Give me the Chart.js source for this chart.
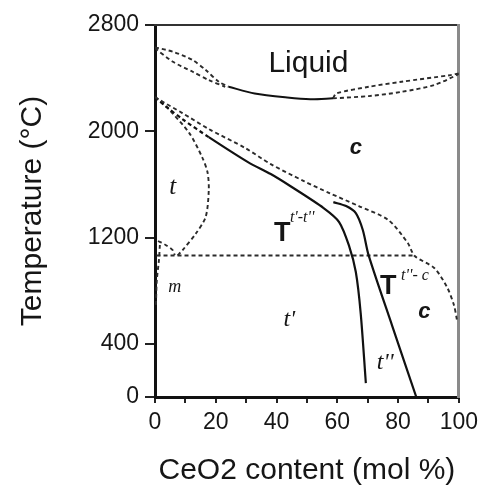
<!DOCTYPE html>
<html><head><meta charset="utf-8">
<script src="https://cdn.jsdelivr.net/npm/chart.js@4.4.0/dist/chart.umd.min.js"></script>
<style>html,body{margin:0;padding:0;background:#fff;}canvas{display:block;}</style>
</head><body>
<canvas id="c" width="484" height="487"></canvas>
<script>
// ---- axis ticks ----
const xTickValues = [0,10,20,30,40,50,60,70,80,90,100];
const xTickLabels = ['0','','20','','40','','60','','80','','100'];
const yTickValues = [0,400,1200,2000,2800];
const yTickLabels = ['0','400','1200','2000','2800'];

// ---- phase boundaries (x = CeO2 mol %, T = °C) ----
const liqLeftUpperX = [0, 6, 12.4, 16.7, 21, 24.2];
const liqLeftUpperT = [2632, 2598, 2536, 2461, 2373, 2335];
const liqLeftLowerX = [0, 5.9, 12.4, 17.7, 23.1];
const liqLeftLowerT = [2625, 2523, 2448, 2385, 2335];
const liqMidX = [24.2, 32.8, 43.5, 51.1, 58.6];
const liqMidT = [2335, 2285, 2255, 2242, 2248];
const liqRightUpperX = [58.6, 59.7, 70.4, 81.2, 97.3, 100];
const liqRightUpperT = [2248, 2285, 2335, 2373, 2423, 2436];
const liqRightLowerX = [58.6, 70.4, 81.2, 91.9, 100];
const liqRightLowerT = [2248, 2265, 2297, 2348, 2430];

const cBoundX = [0, 1.6, 9.0, 17.7, 29.7, 38.1, 49.0, 57.4, 67.1, 76.8, 83.2, 85.5, 91.9, 96.1, 98.4, 99.4];
const cBoundT = [2257, 2235, 2137, 2017, 1874, 1753, 1625, 1535, 1437, 1332, 1159, 1061, 971, 828, 692, 579];

const t1t2X = [0, 3.9, 9.0, 17.7, 30.6, 38.1, 44.5, 55.5, 60.6, 63.9, 66.1, 67.7, 69.4];
const t1t2T = [2257, 2182, 2092, 1956, 1768, 1678, 1588, 1422, 1317, 1136, 941, 632, 105];

const t2cX = [58.7, 62.9, 66.1, 68.4, 70.3, 78.1, 86.0];
const t2cT = [1467, 1437, 1384, 1257, 1068, 534, 0];

const tmX = [0, 2.6, 4.8, 11.3, 15.5, 17.3, 17.7, 16.7, 13.5, 9.1, 7.4];
const tmT = [2257, 2205, 2160, 1986, 1806, 1690, 1558, 1357, 1232, 1106, 1065];

const eutX = [0.5, 85.5];
const eutT = [1065, 1065];

const loopX = [1, 3.5, 5.8, 6.5];
const loopT = [1174, 1144, 1106, 1068];

const mX = [1.6, 1.3, 0.6, 0.3];
const mT = [1144, 1031, 880, 692];

// ---- region labels ----
const labels = [
  {text:'Liquid', x:50.5, y:2506, font:'30px "Liberation Sans"', align:'center'},
  {text:'c', x:66.1, y:1874, font:'italic bold 22px "Liberation Sans"', align:'center'},
  {text:'t', x:5.8, y:1580, font:'italic 25px "Liberation Serif"', align:'center'},
  {text:'T', x:41.9, y:1234, font:'bold 27px "Liberation Sans"', align:'center'},
  {text:"t'-t''", x:44.4, y:1350, font:'italic 16px "Liberation Serif"', align:'left'},
  {text:'m', x:6.5, y:828, font:'italic 18px "Liberation Serif"', align:'center'},
  {text:"t'", x:44.2, y:579, font:'italic 24px "Liberation Serif"', align:'center'},
  {text:'T', x:76.8, y:828, font:'bold 27px "Liberation Sans"', align:'center'},
  {text:"t''- c", x:81.0, y:910, font:'italic 16px "Liberation Serif"', align:'left'},
  {text:'c', x:88.7, y:640, font:'italic bold 22px "Liberation Sans"', align:'center'},
  {text:"t''", x:75.8, y:256, font:'italic 24px "Liberation Serif"', align:'center'}
];

const DASH = [4,3];
function mk(xs, ts, dashed, extra) {
  return Object.assign({
    data: xs.map((v,i)=>({x:v, y:ts[i]})),
    showLine: true, pointRadius: 0, fill: false,
    borderColor: dashed ? '#2b2b2b' : '#111',
    borderWidth: dashed ? 1.9 : 2.2,
    borderDash: dashed ? DASH : [],
    tension: 0.28
  }, extra || {});
}

const datasets = [
  mk(liqLeftUpperX, liqLeftUpperT, true),
  mk(liqLeftLowerX, liqLeftLowerT, true),
  mk(liqMidX, liqMidT, false, {borderWidth:2}),
  mk(liqRightUpperX, liqRightUpperT, true),
  mk(liqRightLowerX, liqRightLowerT, true),
  mk(cBoundX, cBoundT, true),
  mk(t1t2X, t1t2T, false, {segment:{borderDash: c => c.p0.parsed.x < 12 ? DASH : undefined}}),
  mk(t2cX, t2cT, false),
  mk(tmX, tmT, true),
  mk(eutX, eutT, true, {tension:0}),
  mk(loopX, loopT, true),
  mk(mX, mT, true)
];

const textPlugin = {
  id: 'regionText',
  afterDatasetsDraw(chart) {
    const {ctx} = chart;
    const sx = chart.scales.x, sy = chart.scales.y;
    ctx.save();
    ctx.fillStyle = '#161616';
    ctx.textBaseline = 'middle';
    labels.forEach(l => {
      ctx.font = l.font;
      ctx.textAlign = l.align;
      ctx.fillText(l.text, sx.getPixelForValue(l.x), sy.getPixelForValue(l.y));
    });
    ctx.restore();
  }
};

const bgPlugin = {
  id: 'bg',
  beforeDraw(chart) {
    const {ctx} = chart;
    ctx.save(); ctx.fillStyle = '#fff'; ctx.fillRect(0,0,chart.width,chart.height); ctx.restore();
  }
};

const tickFont = {family:'"Liberation Sans"', size:23};

new Chart(document.getElementById('c'), {
  type: 'scatter',
  data: {datasets},
  plugins: [bgPlugin, textPlugin],
  options: {
    responsive: false,
    animation: false,
    devicePixelRatio: 1,
    layout: {padding: {top:25, right:19, left:0, bottom:0}},
    plugins: {legend:{display:false}, tooltip:{enabled:false}},
    scales: {
      x: {
        type:'linear', position:'bottom', min:0, max:100,
        afterBuildTicks: s => { s.ticks = xTickValues.map(v => ({value:v})); },
        afterFit: s => { s.height = 90; },
        ticks: {autoSkip:false, maxRotation:0, color:'#161616', font:tickFont, padding:6,
          callback: (v) => xTickLabels[xTickValues.indexOf(v)] ?? ''},
        grid: {display:true, drawOnChartArea:false, drawTicks:true, tickLength:6, color:'#222', lineWidth:2},
        border: {display:true, color:'#111', width:3},
        title: {display:true, text:'CeO2 content (mol %)', color:'#161616',
          font:{family:'"Liberation Sans"', size:30, lineHeight:1.1}, padding:{top:0,bottom:0}}
      },
      y: {
        type:'linear', position:'left', min:0, max:2800,
        afterBuildTicks: s => { s.ticks = yTickValues.map(v => ({value:v})); },
        afterFit: s => { s.width = 155; },
        ticks: {autoSkip:false, color:'#161616', font:tickFont, padding:6,
          callback: (v) => yTickLabels[yTickValues.indexOf(v)] ?? ''},
        grid: {display:true, drawOnChartArea:false, drawTicks:true, tickLength:10, color:'#222', lineWidth:2},
        border: {display:true, color:'#111', width:3},
        title: {display:true, text:'Temperature (°C)', color:'#161616',
          font:{family:'"Liberation Sans"', size:30, lineHeight:1.1}, padding:{top:16,bottom:0}}
      },
      x2: {
        type:'linear', position:'top', min:0, max:100, display:true,
        afterFit: s => { s.height = 0; },
        ticks:{display:false}, grid:{display:false, drawTicks:false},
        border:{display:true, color:'#333', width:2}
      },
      y2: {
        type:'linear', position:'right', min:0, max:2800, display:true,
        afterFit: s => { s.width = 0; },
        ticks:{display:false}, grid:{display:false, drawTicks:false},
        border:{display:true, color:'#8a8a8a', width:3}
      }
    }
  }
});
</script>
</body></html>
